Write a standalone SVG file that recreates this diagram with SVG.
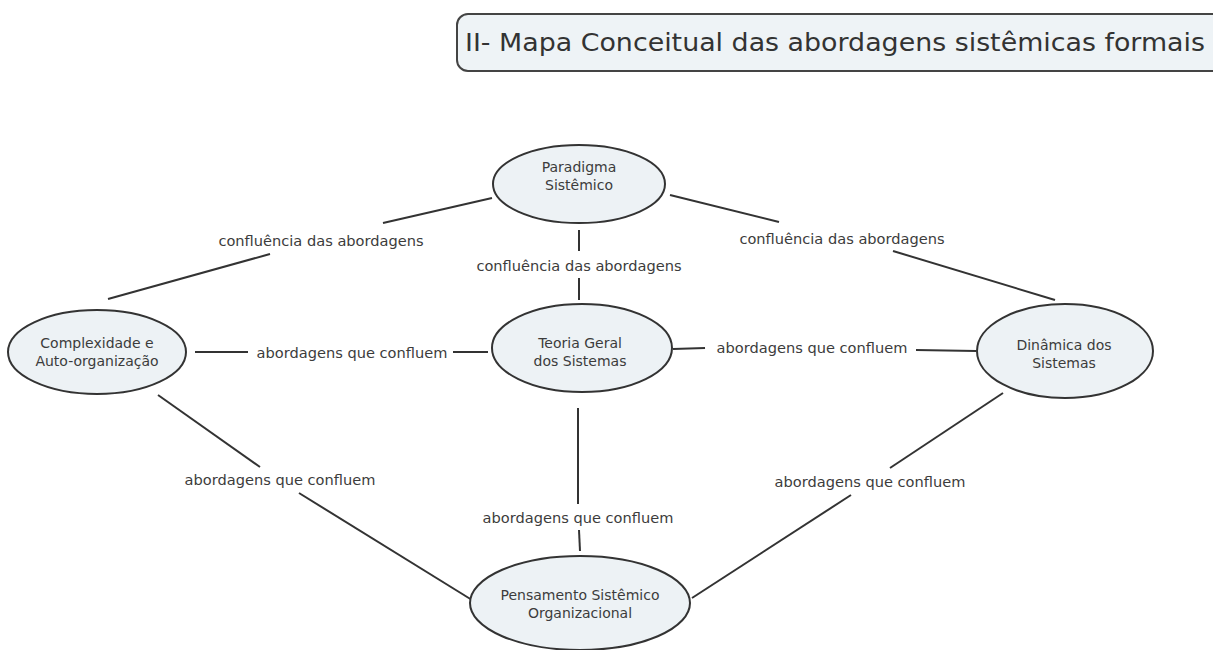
<svg xmlns="http://www.w3.org/2000/svg" width="1213" height="650" viewBox="0 0 1213 650">
<style>
.node ellipse{fill:#edf2f5;stroke:#333;stroke-width:2}
.nt{font-family:"DejaVu Sans",Verdana,sans-serif;font-size:14px;fill:#3c3c3c;text-anchor:middle;dominant-baseline:central}
.lbl{font-family:"DejaVu Sans",Verdana,sans-serif;font-size:14.6px;fill:#3c3c3c;text-anchor:middle;dominant-baseline:central}
#connectors line{stroke:#333;stroke-width:2}
</style>
<rect width="1213" height="650" fill="#fff"/>
<g id="title">
<rect x="457" y="14" width="780" height="57" rx="11" fill="#eef3f6" stroke="#444" stroke-width="2"/>
<text x="465" y="43" font-family="DejaVu Sans,Verdana,sans-serif" font-size="24" fill="#333" dominant-baseline="central" textLength="740" lengthAdjust="spacingAndGlyphs">II- Mapa Conceitual das abordagens sistêmicas formais</text>
</g>
<g id="connectors">
<line x1="492" y1="198" x2="383" y2="223"/>
<line x1="270" y1="254" x2="108" y2="299"/>
<text class="lbl" x="321" y="240">confluência das abordagens</text>
<line x1="579" y1="230" x2="579" y2="251"/>
<line x1="579" y1="278" x2="579" y2="300"/>
<text class="lbl" x="579" y="265">confluência das abordagens</text>
<line x1="670" y1="195" x2="779" y2="222"/>
<line x1="893" y1="251" x2="1055" y2="300"/>
<text class="lbl" x="842" y="238">confluência das abordagens</text>
<line x1="195" y1="352" x2="248" y2="352"/>
<line x1="453" y1="352" x2="488" y2="352"/>
<text class="lbl" x="352" y="352">abordagens que confluem</text>
<line x1="673" y1="349" x2="705" y2="348"/>
<line x1="916" y1="350" x2="976" y2="351"/>
<text class="lbl" x="812" y="347">abordagens que confluem</text>
<line x1="158" y1="395" x2="260" y2="467"/>
<line x1="299" y1="493" x2="472" y2="600"/>
<text class="lbl" x="280" y="479">abordagens que confluem</text>
<line x1="578" y1="408" x2="578" y2="504"/>
<line x1="579" y1="530" x2="580" y2="551"/>
<text class="lbl" x="578" y="517">abordagens que confluem</text>
<line x1="1003" y1="393" x2="890" y2="468"/>
<line x1="851" y1="495" x2="692" y2="598"/>
<text class="lbl" x="870" y="481">abordagens que confluem</text>
</g>
<g id="paradigma" class="node">
<ellipse cx="579" cy="184" rx="86" ry="39"/>
<text class="nt" x="579" y="167">Paradigma</text>
<text class="nt" x="579" y="185">Sistêmico</text>
</g>
<g id="complexidade" class="node">
<ellipse cx="97" cy="352" rx="89" ry="42"/>
<text class="nt" x="97" y="343">Complexidade e</text>
<text class="nt" x="97" y="361">Auto-organização</text>
</g>
<g id="teoria" class="node">
<ellipse cx="582" cy="348" rx="90" ry="44"/>
<text class="nt" x="580" y="343">Teoria Geral</text>
<text class="nt" x="580" y="361">dos Sistemas</text>
</g>
<g id="dinamica" class="node">
<ellipse cx="1065" cy="351" rx="88" ry="47"/>
<text class="nt" x="1064" y="345">Dinâmica dos</text>
<text class="nt" x="1064" y="363">Sistemas</text>
</g>
<g id="pensamento" class="node">
<ellipse cx="580" cy="603" rx="110" ry="47"/>
<text class="nt" x="580" y="595">Pensamento Sistêmico</text>
<text class="nt" x="580" y="613">Organizacional</text>
</g>
</svg>
